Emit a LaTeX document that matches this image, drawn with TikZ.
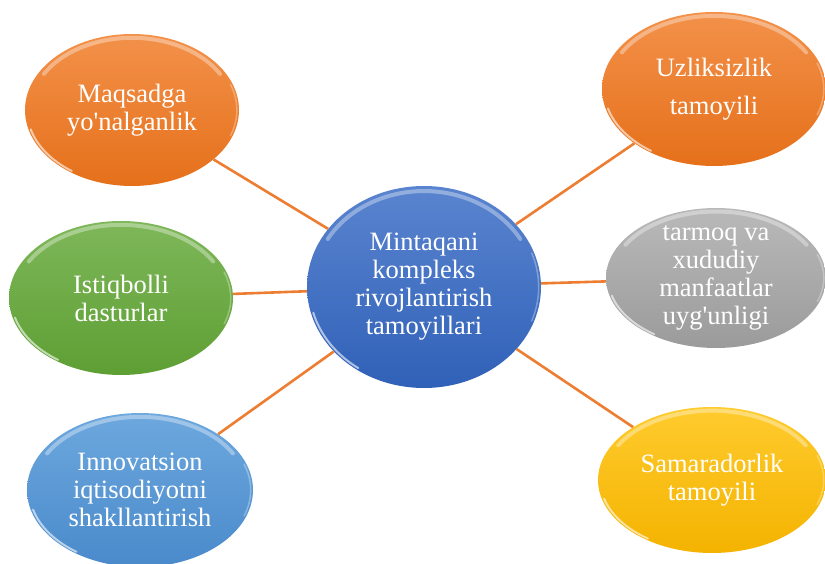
\documentclass[tikz,border=0pt]{standalone}
\usepackage{fontspec}
\setmainfont{Liberation Serif}
\usetikzlibrary{shapes.geometric,calc}

\definecolor{linkorange}{HTML}{ED7D31}
\definecolor{orangetop}{HTML}{F3914A}
\definecolor{orangebot}{HTML}{E5701A}
\definecolor{greentop}{HTML}{7EB759}
\definecolor{greenbot}{HTML}{5E9F34}
\definecolor{graytop}{HTML}{B9B9B9}
\definecolor{graybot}{HTML}{9B9B9B}
\definecolor{skytop}{HTML}{6DA8DE}
\definecolor{skybot}{HTML}{4A8ACB}
\definecolor{bluetop}{HTML}{5A84CF}
\definecolor{bluebot}{HTML}{3061B8}
\definecolor{yellowtop}{HTML}{FFCB2E}
\definecolor{yellowbot}{HTML}{F4B300}

\tikzset{
  bubble/.style 2 args={ellipse, inner sep=0pt, draw=none,
    top color=#1, bottom color=#2, text=white, align=center,
    font=\fontsize{26.5}{28}\selectfont,
    path picture={
      \path let \p1=($(path picture bounding box.north east)-(path picture bounding box.center)$)
        in \pgfextra{\xdef\brx{\x1}\xdef\bry{\y1}};
      \coordinate (bc) at (path picture bounding box.center);
      % shine along the top
      \draw[white, opacity=.35, line width=4pt, line cap=round]
        ($(bc)+(150:{0.95*\brx} and {0.95*\bry})$)
        arc[start angle=150, end angle=30, x radius=0.95*\brx, y radius=0.95*\bry];
      % glint at the lower left
      \draw[white, opacity=.6, line width=2pt, line cap=round]
        ($(bc)+(195:{0.98*\brx} and {0.98*\bry})$)
        arc[start angle=195, end angle=235, x radius=0.98*\brx, y radius=0.98*\bry];
      % rim on the right
      \draw[white, opacity=.3, line width=1.5pt, line cap=round]
        ($(bc)+(-20:{0.98*\brx} and {0.98*\bry})$)
        arc[start angle=-20, end angle=20, x radius=0.98*\brx, y radius=0.98*\bry];
    }},
  link/.style={draw=linkorange, line width=2.6pt}
}

\begin{document}
\begin{tikzpicture}[x=1pt,y=1pt]
  \useasboundingbox (0,0) rectangle (825,563);

  % centre
  \node[bubble={bluetop}{bluebot}, minimum width=234pt, minimum height=202pt]
    (markaz) at (424,276) {Mintaqani\\kompleks\\rivojlantirish\\tamoyillari};

  % left side
  \node[bubble={orangetop}{orangebot}, minimum width=214pt, minimum height=152pt]
    (maqsad) at (132,453) {Maqsadga\\yo\textquotesingle nalganlik};
  \node[bubble={greentop}{greenbot}, minimum width=224pt, minimum height=154pt]
    (istiqbol) at (121,265) {Istiqbolli\\dasturlar};
  \node[bubble={skytop}{skybot}, minimum width=226pt, minimum height=154pt]
    (innovats) at (140,73) {Innovatsion\\iqtisodiyotni\\shakllantirish};

  % right side
  \node[bubble={orangetop}{orangebot}, minimum width=224pt, minimum height=154pt]
    (uzluksiz) at (714,474) {Uzliksizlik\\[10pt]tamoyili};
  \node[bubble={graytop}{graybot}, minimum width=220pt, minimum height=140pt, inner ysep=-9pt]
    (tarmoq) at (716,285) {tarmoq va\\xududiy\\manfaatlar\\uyg\textquotesingle unligi};
  \node[bubble={yellowtop}{yellowbot}, minimum width=228pt, minimum height=146pt]
    (samara) at (712,83) {Samaradorlik\\tamoyili};

  % links
  \draw[link] (markaz) -- (maqsad);
  \draw[link] (markaz) -- (istiqbol);
  \draw[link] (markaz) -- (innovats);
  \draw[link] (markaz) -- (uzluksiz);
  \draw[link] (markaz) -- (tarmoq);
  \draw[link] (markaz) -- (samara);
\end{tikzpicture}
\end{document}
